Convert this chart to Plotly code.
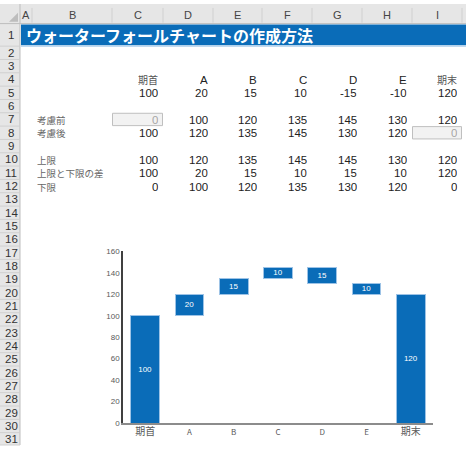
import plotly.graph_objects as go

# データ
categories = ['期首', 'A', 'B', 'C', 'D', 'E', '期末']
changes = [100, 20, 15, 10, -15, -10, 120]
before = [0, 100, 120, 135, 145, 130, 120]
after = [100, 120, 135, 145, 130, 120, 0]
upper = [100, 120, 135, 145, 145, 130, 120]
diff = [100, 20, 15, 10, 15, 10, 120]
lower = [0, 100, 120, 135, 130, 120, 0]

col_letters = ['A', 'B', 'C', 'D', 'E', 'F', 'G', 'H', 'I']
row_labels = {7: '考慮前', 8: '考慮後', 10: '上限', 11: '上限と下限の差', 12: '下限'}
title_text = 'ウォーターフォールチャートの作成方法'

W, H = 466, 450
jp_font = 'Noto Sans CJK JP'
num_font = 'Liberation Sans, Arial, sans-serif'
blue = '#0A6CB8'


def px(x):
    return x / W


def py(y):
    return 1 - y / H


# 列の境界（ピクセル）
col_edges = [20, 32, 112, 163, 213, 262, 312, 362, 412, 462, 500]


def row_top(n):
    if n == 1:
        return 21
    return 43 + (n - 2) * 13.6


def row_mid(n):
    return row_top(n) + (13.6 if n > 1 else 22) / 2


shapes = []
annotations = []

# 見出しの背景
shapes.append(dict(type='rect', xref='paper', yref='paper', x0=0, x1=1, y0=py(20), y1=1,
                   fillcolor='#E6E6E6', line=dict(width=0), layer='below'))
shapes.append(dict(type='rect', xref='paper', yref='paper', x0=0, x1=px(20), y0=0, y1=1,
                   fillcolor='#E6E6E6', line=dict(width=0), layer='below'))
shapes.append(dict(type='line', xref='paper', yref='paper', x0=0, x1=1, y0=py(20), y1=py(20),
                   line=dict(color='#BDBDBD', width=1)))
shapes.append(dict(type='line', xref='paper', yref='paper', x0=px(20), x1=px(20), y0=0, y1=1,
                   line=dict(color='#BDBDBD', width=1)))
# 全選択の三角
shapes.append(dict(type='path', xref='paper', yref='paper',
                   path=f'M {px(18)} {py(18)} L {px(18)} {py(9)} L {px(9)} {py(18)} Z',
                   fillcolor='#BDBDBD', line=dict(width=0)))

# 列見出し
for i, letter in enumerate(col_letters):
    x0, x1 = col_edges[i], col_edges[i + 1]
    shapes.append(dict(type='line', xref='paper', yref='paper', x0=px(x1), x1=px(x1),
                       y0=py(19), y1=py(4), line=dict(color='#D0D0D0', width=1)))
    annotations.append(dict(x=px((x0 + x1) / 2), y=py(11), xref='paper', yref='paper',
                            text=letter, showarrow=False, xanchor='center', yanchor='middle',
                            font=dict(size=11, color='#444444', family=num_font)))

# 行見出し
for n in range(1, 32):
    bottom = row_top(n + 1) if n < 31 else H
    shapes.append(dict(type='line', xref='paper', yref='paper', x0=0, x1=px(20),
                       y0=py(bottom), y1=py(bottom), line=dict(color='#D0D0D0', width=1)))
    annotations.append(dict(x=px(11), y=py(row_mid(n)), xref='paper', yref='paper',
                            text=str(n), showarrow=False, xanchor='center', yanchor='middle',
                            font=dict(size=11.5, color='#333333', family=num_font)))

# タイトル帯
shapes.append(dict(type='rect', xref='paper', yref='paper', x0=px(21), x1=1, y0=py(42), y1=py(21),
                   fillcolor=blue, line=dict(width=0)))
shapes.append(dict(type='line', xref='paper', yref='paper', x0=px(21), x1=1, y0=py(43), y1=py(43),
                   line=dict(color='#9DC3E6', width=1)))
annotations.append(dict(x=px(24), y=py(32), xref='paper', yref='paper', text='<b>' + title_text + '</b>',
                        showarrow=False, xanchor='left', yanchor='middle',
                        font=dict(size=16, color='white', family=jp_font)))

# 灰色のセル
for (c, r) in [(2, 7), (8, 8)]:
    shapes.append(dict(type='rect', xref='paper', yref='paper', x0=px(col_edges[c] + 0.5),
                       x1=px(col_edges[c + 1] - 0.5), y0=py(row_top(r + 1) - 0.5), y1=py(row_top(r) + 0.5),
                       fillcolor='#F2F2F2', line=dict(color='#BFBFBF', width=1)))


def cell(col_idx, row, text, color='#222222', font=num_font, size=11.5):
    right = col_edges[col_idx + 1] - 3
    annotations.append(dict(x=px(right), y=py(row_mid(row)), xref='paper', yref='paper',
                            text=text, showarrow=False, xanchor='right', yanchor='middle',
                            height=13, font=dict(size=size, color=color, family=font)))


for j, cat in enumerate(categories):
    c = j + 2
    is_jp = cat in ('期首', '期末')
    cell(c, 4, cat, color='#555555' if is_jp else '#222222',
         font=jp_font if is_jp else num_font, size=10 if is_jp else 11.5)
    cell(c, 5, str(changes[j]))
    for row, vals in [(7, before), (8, after), (10, upper), (11, diff), (12, lower)]:
        grey = (row == 7 and j == 0) or (row == 8 and j == len(categories) - 1)
        cell(c, row, str(vals[j]), color='#A6A6A6' if grey else '#222222')

for row, label in row_labels.items():
    annotations.append(dict(x=px(35), y=py(row_mid(row)), xref='paper', yref='paper',
                            text=label, showarrow=False, xanchor='left', yanchor='middle',
                            height=13, font=dict(size=9.5, color='#666666', family=jp_font)))

# グラフ
tick_text = [f'<span style="font-size:10px">{c}</span>' if c in ('期首', '期末') else c
             for c in categories]

fig = go.Figure()
fig.add_trace(go.Bar(x=categories, y=lower, marker=dict(color='rgba(0,0,0,0)', line=dict(width=0)),
                     hoverinfo='skip', showlegend=False))
fig.add_trace(go.Bar(x=categories, y=diff, text=[str(v) for v in diff],
                     textposition='inside', insidetextanchor='middle',
                     textfont=dict(size=8, color='white', family=num_font),
                     marker=dict(color=blue, line=dict(color='#9DC3E6', width=1)),
                     showlegend=False))

fig.update_layout(
    width=W, height=H,
    margin=dict(l=0, r=0, t=0, b=0),
    paper_bgcolor='white', plot_bgcolor='white',
    barmode='stack', bargap=0.35,
    shapes=shapes, annotations=annotations,
    xaxis=dict(domain=[px(123), px(433)], showgrid=False, showline=True, linecolor='#8C8C8C',
               linewidth=2, ticks='', tickvals=categories, ticktext=tick_text,
               tickfont=dict(size=8, color='#595959', family=jp_font)),
    yaxis=dict(domain=[py(427.7), py(252.3)], range=[0, 160], dtick=20, showgrid=False,
               zeroline=False, showline=True, linecolor='#404040', linewidth=1.5, ticks='',
               tickfont=dict(size=8, color='#595959', family=num_font)),
    uniformtext=dict(minsize=8, mode='show'),
)

fig.write_html('out.html', config={'displayModeBar': False},
               post_script="document.body.style.margin='0';")
